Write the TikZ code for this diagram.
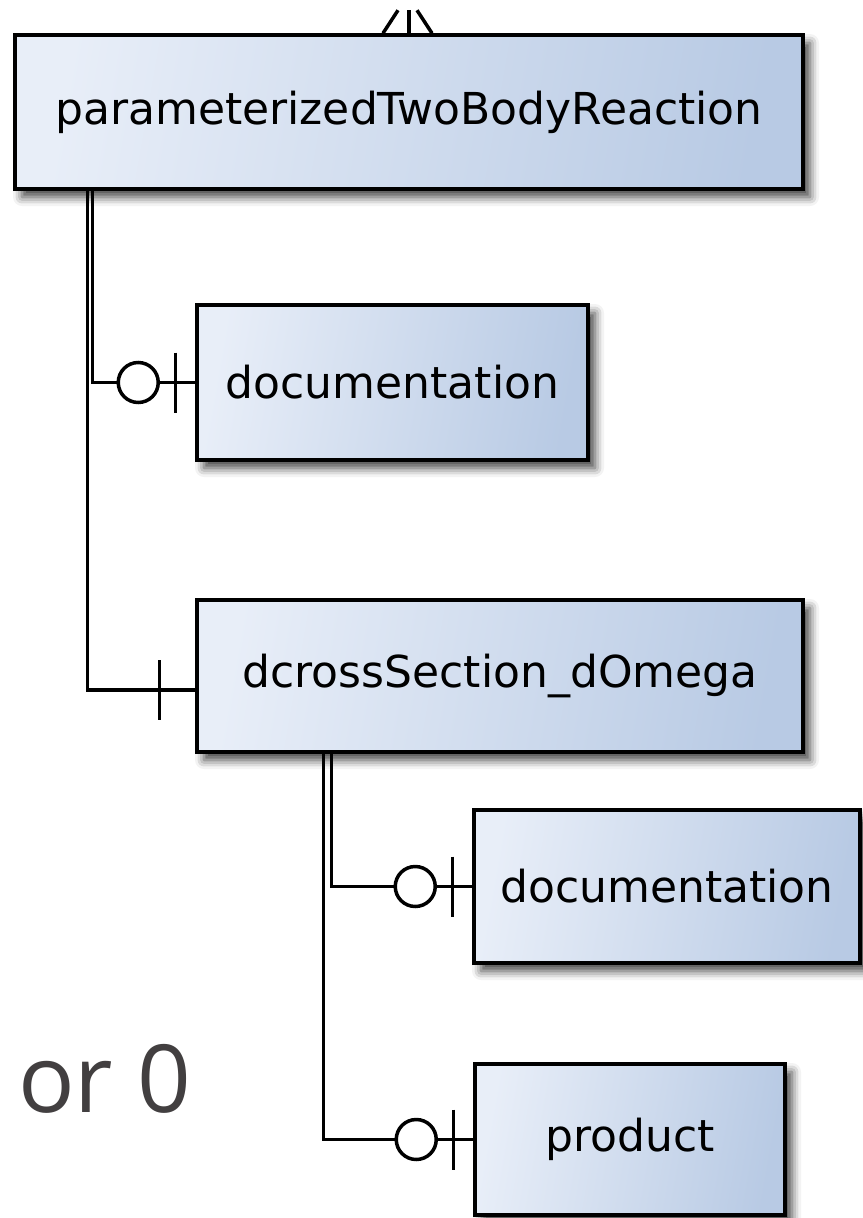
\documentclass[tikz,border=0pt]{standalone}
\usepackage{fontspec}
\setmainfont{DejaVu Sans}
\newfontfamily\notefont{Open Sans}
\usetikzlibrary{shadows.blur}
\definecolor{boxleft}{RGB}{232,238,248}
\definecolor{boxright}{RGB}{184,202,228}
\definecolor{notegray}{RGB}{66,63,64}
\tikzset{
    entity/.style={shape=rectangle,draw,line width=3.5pt,
        left color=boxleft,right color=boxright,shading angle=80,
        blur shadow={shadow xshift=7pt,shadow yshift=-8pt,shadow blur radius=9pt,shadow opacity=75},
        font=\fontsize{44}{48}\selectfont,inner sep=0pt},
    link/.style={line width=3.5pt},
    ring/.style={line width=3.5pt,fill=white}
}
\begin{document}
\begin{tikzpicture}[x=1pt,y=-1pt]
        \useasboundingbox (0,0) rectangle (862,1218);
        \node (ptbr) [entity,minimum width=788pt,minimum height=154pt] at (409,112) {parameterizedTwoBodyReaction};
        \node (doc1) [entity,minimum width=391pt,minimum height=155pt] at (392.5,382.5) {documentation};
        \node (dcs)  [entity,minimum width=606pt,minimum height=152pt] at (500,676) {dcrossSection\_dOmega};
        \node (doc2) [entity,minimum width=386pt,minimum height=153pt] at (667,886.5) {documentation};
        \node (prod) [entity,minimum width=310pt,minimum height=151pt] at (630,1139.5) {product};
        \node (orzero) [anchor=base west,text=notegray,inner sep=0pt,
            font=\notefont\fontsize{94}{100}\selectfont] at (18,1112) {or 0};
        % many end above the top box
        \draw[link] ([xshift=-26pt]ptbr.north) -- ++(15,-23);
        \draw[link] (ptbr.north) -- ++(0,-23);
        \draw[link] ([xshift=23pt]ptbr.north) -- ++(-15,-23);
        % children
        \draw[link] ([xshift=79pt]ptbr.south west) |- (doc1.west);
        \draw[link] ([xshift=74pt]ptbr.south west) |- ([yshift=-14pt]dcs.west);
        \draw[link] ([xshift=136pt]dcs.south west) |- (doc2.west);
        \draw[link] ([xshift=128pt]dcs.south west) |- (prod.west);
        % zero or one
        \foreach \n in {doc1,doc2,prod}{
            \draw[ring] ([xshift=-57pt]\n.west) circle (20pt);
            \draw[link] ([xshift=-20pt,yshift=30pt]\n.west) -- ([xshift=-20pt,yshift=-30pt]\n.west);
        }
        % exactly one
        \draw[link] ([xshift=-36pt,yshift=16pt]dcs.west) -- ([xshift=-36pt,yshift=-44pt]dcs.west);
    \end{tikzpicture}
\end{document}
